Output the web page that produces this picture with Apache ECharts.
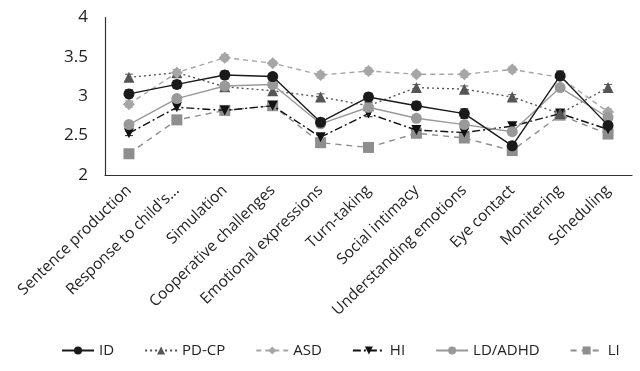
<!DOCTYPE html>
<html lang="en">
<head>
    <meta charset="UTF-8">
    <script src="https://cdn.jsdelivr.net/npm/echarts@6/dist/echarts.min.js"></script>
    <title>Scores by group</title>
</head>
<style>
    body{
        margin: 0;
        padding: 0;
        background: #fff;
    }
</style>
<body>
<div id="chart" style="width: 640px;height:371px;"></div>
</body>
<script>
    // categories and group means
    var categories = ['Sentence production', "Response to child's...", 'Simulation', 'Cooperative challenges',
        'Emotional expressions', 'Turn-taking', 'Social intimacy', 'Understanding emotions',
        'Eye contact', 'Monitering', 'Scheduling'];

    var ID     = [3.03, 3.15, 3.27, 3.25, 2.67, 2.99, 2.88, 2.78, 2.37, 3.26, 2.63];
    var PDCP   = [3.24, 3.30, 3.12, 3.07, 2.99, 2.88, 3.11, 3.09, 2.99, 2.78, 3.11];
    var ASD    = [2.90, 3.30, 3.49, 3.42, 3.27, 3.32, 3.28, 3.28, 3.34, 3.24, 2.80];
    var HI     = [2.53, 2.86, 2.82, 2.88, 2.48, 2.78, 2.57, 2.54, 2.62, 2.78, 2.58];
    var LDADHD = [2.64, 2.97, 3.13, 3.15, 2.65, 2.86, 2.72, 2.64, 2.55, 3.11, 2.73];
    var LI     = [2.27, 2.70, 2.82, 2.88, 2.41, 2.35, 2.53, 2.47, 2.31, 2.76, 2.52];

    // error bar half widths
    var errID     = [0.05, 0.05, 0.05, 0.04, 0.05, 0.05, 0.05, 0.06, 0.05, 0.06, 0.04];
    var errPDCP   = [0.04, 0.04, 0.04, 0.04, 0.04, 0.04, 0.04, 0.04, 0.03, 0.03, 0.04];
    var errASD    = [0.04, 0.04, 0.04, 0.03, 0.04, 0.04, 0.03, 0.04, 0.04, 0.04, 0.04];
    var errHI     = [0.03, 0.03, 0.03, 0.03, 0.04, 0.04, 0.03, 0.04, 0.04, 0.03, 0.03];
    var errLDADHD = [0.04, 0.04, 0.04, 0.04, 0.04, 0.04, 0.04, 0.04, 0.04, 0.04, 0.04];
    var errLI     = [0.03, 0.03, 0.03, 0.03, 0.03, 0.03, 0.03, 0.03, 0.03, 0.03, 0.03];

    var yTicks = [2, 2.5, 3, 3.5, 4];

    var FONT = 'Open Sans';

    function lineSeries(name, data, color, lineType, symbol, size, z) {
        return {
            name: name,
            type: 'line',
            data: data,
            symbol: symbol,
            symbolSize: size,
            z: z,
            lineStyle: {color: color, width: 1.4, type: lineType},
            itemStyle: {color: color},
            emphasis: {disabled: true},
            animation: false
        };
    }

    function errSeries(name, data, err, color, z) {
        var d = [];
        for (var i = 0; i < data.length; i++) {
            d.push([i, data[i] - err[i], data[i] + err[i]]);
        }
        return {
            name: name + ' err',
            type: 'custom',
            data: d,
            z: z,
            silent: true,
            animation: false,
            renderItem: function (params, api) {
                var lo = api.coord([api.value(0), api.value(1)]);
                var hi = api.coord([api.value(0), api.value(2)]);
                var w = 4;
                var st = {stroke: color, lineWidth: 1};
                return {
                    type: 'group',
                    children: [
                        {type: 'line', shape: {x1: lo[0], y1: lo[1], x2: hi[0], y2: hi[1]}, style: st},
                        {type: 'line', shape: {x1: lo[0] - w, y1: lo[1], x2: lo[0] + w, y2: lo[1]}, style: st},
                        {type: 'line', shape: {x1: hi[0] - w, y1: hi[1], x2: hi[0] + w, y2: hi[1]}, style: st}
                    ]
                };
            }
        };
    }

    var chart = echarts.init(document.getElementById('chart'));
    var option = {
        backgroundColor: '#fff',
        animation: false,
        grid: {left: 105, right: 8, top: 17.5, bottom: 196},
        legend: {
            data: ['ID', 'PD-CP', 'ASD', 'HI', 'LD/ADHD', 'LI'],
            bottom: 8,
            left: 56,
            itemWidth: 32,
            itemHeight: 10,
            itemGap: 30,
            textStyle: {fontFamily: FONT, fontSize: 15, color: '#222'}
        },
        xAxis: {
            type: 'category',
            data: categories,
            boundaryGap: true,
            axisLine: {lineStyle: {color: '#333', width: 1.2}},
            axisTick: {show: false},
            axisLabel: {
                rotate: 44,
                interval: 0,
                margin: 13,
                fontFamily: FONT,
                fontSize: 15.5,
                color: '#222'
            }
        },
        yAxis: {
            type: 'value',
            min: yTicks[0],
            max: yTicks[yTicks.length - 1],
            interval: 0.5,
            axisLine: {show: true, lineStyle: {color: '#333', width: 1.2}},
            axisTick: {show: false},
            splitLine: {show: false},
            axisLabel: {
                margin: 17,
                fontFamily: FONT,
                fontSize: 17,
                color: '#222',
                formatter: function (v) { return String(v); }
            }
        },
        series: [
            errSeries('LI', LI, errLI, '#999', 1),
            errSeries('HI', HI, errHI, '#222', 1),
            errSeries('PD-CP', PDCP, errPDCP, '#555', 1),
            errSeries('ASD', ASD, errASD, '#aaa', 1),
            errSeries('LD/ADHD', LDADHD, errLDADHD, '#999', 1),
            errSeries('ID', ID, errID, '#1a1a1a', 1),
            lineSeries('LI', LI, '#8e8e8e', [6, 5], 'rect', 11, 2),
            lineSeries('HI', HI, '#111', [8, 3, 2, 3], 'path://M0,0 L10,0 L5,9 Z', 10, 3),
            lineSeries('PD-CP', PDCP, '#555', [2, 3], 'triangle', 11, 4),
            lineSeries('ASD', ASD, '#a6a6a6', [5, 4], 'diamond', 12, 5),
            lineSeries('LD/ADHD', LDADHD, '#999', 'solid', 'circle', 11, 6),
            lineSeries('ID', ID, '#1a1a1a', 'solid', 'circle', 11, 7)
        ]
    };
    chart.setOption(option);
</script>
</html>
